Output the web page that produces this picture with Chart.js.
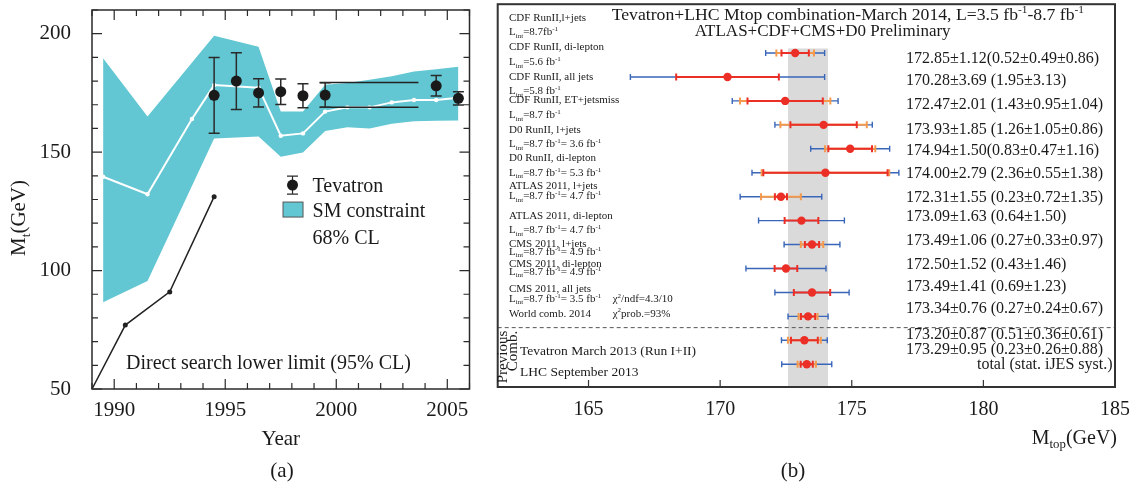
<!DOCTYPE html>
<html>
<head>
<meta charset="utf-8">
<script src="https://cdn.jsdelivr.net/npm/chart.js@4.4.1/dist/chart.umd.min.js"></script>
<style>
  body { margin: 0; background: #fff; }
  #wrap { position: relative; width: 1129px; height: 482px; font-family: "Liberation Serif", "DejaVu Serif", serif; color: #1a1a1a; }
  #chartA { position: absolute; left: 0; top: 0; }
  #chartB { position: absolute; left: 490px; top: 0; }
  .cap { position: absolute; font-size: 21px; transform: translate(-50%, -50%); }
</style>
</head>
<body>
<div id="wrap">
  <canvas id="chartA" width="490" height="482"></canvas>
  <canvas id="chartB" width="639" height="482"></canvas>
  <div class="cap" style="left:282px; top:470px">(a)</div>
  <div class="cap" style="left:793px; top:470px">(b)</div>
</div>
<script>
// ---- (a) top mass vs year ----
const bandYears = [1989.5, 1991.5, 1994.5, 1996.5, 1997.5, 1998.5, 1999.5, 2000.5, 2001.5, 2002.5, 2003.5, 2004.5, 2005.5]
const bandUpper = [189.6, 165.0, 199.1, 194.5, 167.1, 167.1, 178.4, 179.2, 180.6, 182.0, 184.0, 185.0, 186.0]
const bandLower = [86.6, 95.6, 155.8, 156.6, 148.1, 149.8, 158.9, 160.5, 160.0, 162.0, 163.0, 163.2, 163.3]
const fitYears = [1989.5, 1991.5, 1993.5, 1994.5, 1996.5, 1997.5, 1998.5, 1999.5, 2000.5, 2001.5, 2002.5, 2003.5, 2004.5, 2005.5]
const fitMass = [139.6, 132.2, 164.0, 178.3, 177.2, 156.9, 157.9, 167.1, 168.9, 168.9, 171.0, 172.0, 172.0, 173.0]
const limitYears = [1989, 1990.5, 1992.5, 1994.5]
const limitMass = [50, 77, 91, 131.2]
const tevYears = [1994.5, 1995.5, 1996.5, 1997.5, 1998.5, 1999.5, 2004.5, 2005.5]
const tevMass = [174.0, 180.0, 175.0, 175.5, 173.8, 174.1, 178.0, 172.7]
const tevErr = [16.0, 12.0, 6.0, 5.4, 5.1, 5.2, 4.3, 2.8]
const rangeYears = [1999.25, 2003.7]
const rangeMass = [179.4, 168.9]
const yearTicks = [1990, 1995, 2000, 2005]
const massTicks = [50, 100, 150, 200]

// ---- (b) Mtop combination ----
const expNames = ['CDF RunII,l+jets', 'CDF RunII, di-lepton', 'CDF RunII, all jets', 'CDF RunII, ET+jetsmiss',
  'D0 RunII, l+jets', 'D0 RunII, di-lepton', 'ATLAS 2011, l+jets', 'ATLAS 2011, di-lepton',
  'CMS 2011, l+jets', 'CMS 2011, di-lepton', 'CMS 2011, all jets', 'World comb. 2014']
const expLumi = ['L_{int}=8.7fb^{-1}', 'L_{int}=5.6 fb^{-1}', 'L_{int}=5.8 fb^{-1}', 'L_{int}=8.7 fb^{-1}',
  'L_{int}=8.7 fb^{-1}= 3.6 fb^{-1}', 'L_{int}=8.7 fb^{-1}= 5.3 fb^{-1}', 'L_{int}=8.7 fb^{-1}= 4.7 fb^{-1}',
  'L_{int}=8.7 fb^{-1}= 4.7 fb^{-1}', 'L_{int}=8.7 fb^{-1}= 4.9 fb^{-1}', 'L_{int}=8.7 fb^{-1}= 4.9 fb^{-1}',
  'L_{int}=8.7 fb^{-1}= 3.5 fb^{-1}']
const prevNames = ['Tevatron March 2013 (Run I+II)', 'LHC September 2013']
const mtop     = [172.85, 170.28, 172.47, 173.93, 174.94, 174.00, 172.31, 173.09, 173.49, 172.50, 173.49, 173.34, 173.20, 173.29]
const mtopTot  = [1.12, 3.69, 2.01, 1.85, 1.50, 2.79, 1.55, 1.63, 1.06, 1.52, 1.41, 0.76, 0.87, 0.95]
const mtopStat = [0.52, 1.95, 1.43, 1.26, 0.83, 2.36, 0.23, 0.64, 0.27, 0.43, 0.69, 0.27, 0.51, 0.23]
const mtopJes  = [0.49, null, 0.95, 1.05, 0.47, 0.55, 0.72, null, 0.33, null, null, 0.24, 0.36, 0.26]
const mtopSyst = [0.86, 3.13, 1.04, 0.86, 1.16, 1.38, 1.35, 1.50, 0.97, 1.46, 1.23, 0.67, 0.61, 0.88]
const mtopTicks = [165, 170, 175, 180, 185]
const worldIdx = 11

// label placement, in row units of the (b) axis
const nameRows  = [-1.51, -0.26, 0.99, 1.95, 3.17, 4.35, 5.53, 6.78, 7.93, 8.77, 9.83, 10.88]
const lumiRows  = [-0.89, 0.36, 1.57, 2.58, 3.79, 4.98, 5.95, 7.38, 8.28, 9.11, 10.25]
const valueRows = [0.18, 1.13, 2.13, 3.17, 4.04, 5.02, 6.0, 6.78, 7.79, 8.82, 9.70, 10.62, 11.72, 12.36]
const prevRows  = [12.43, 13.31]
const tightRows = [0, 4]

const SERIF = '"Liberation Serif", "DejaVu Serif", serif'
const INK = '#1a1a1a'
const CYAN = '#62c7d3'
const BLUE = '#3a66b9'
const ORANGE = '#f59a4c'
const RED = '#ec2f26'

const xy = (xs, ys) => xs.map((x, i) => ({x: x, y: ys[i]}))

// text with _{sub} and ^{sup} parts, y is the visual middle
function drawRich(ctx, str, x, y, size, align) {
  const parts = []
  const re = /([_^])\{([^}]*)\}/g
  let last = 0, m
  while ((m = re.exec(str))) {
    if (m.index > last) parts.push({t: str.slice(last, m.index), k: ''})
    parts.push({t: m[2], k: m[1]})
    last = re.lastIndex
  }
  if (last < str.length) parts.push({t: str.slice(last), k: ''})
  const small = size * 0.64
  let w = 0
  parts.forEach(p => {
    ctx.font = (p.k ? small : size) + 'px ' + SERIF
    p.w = ctx.measureText(p.t).width
    w += p.w
  })
  let cx = align === 'center' ? x - w / 2 : align === 'right' ? x - w : x
  const base = y + size * 0.33
  ctx.textAlign = 'left'
  ctx.textBaseline = 'alphabetic'
  parts.forEach(p => {
    ctx.font = (p.k ? small : size) + 'px ' + SERIF
    const dy = p.k === '_' ? size * 0.22 : p.k === '^' ? -size * 0.38 : 0
    ctx.fillText(p.t, cx, base + dy)
    cx += p.w
  })
}

function valueText(i) {
  const parts = [mtopStat[i], mtopJes[i], mtopSyst[i]].filter(v => v != null).map(v => v.toFixed(2))
  return mtop[i].toFixed(2) + '±' + mtopTot[i].toFixed(2) + (tightRows.includes(i) ? '' : ' ') + '(' + parts.join('±') + ')'
}

// SECTION PANEL A
const panelA = {
  id: 'panelA',
  beforeDatasetDraw(chart, args) {
    if (args.index !== 6) return
    const {ctx, scales: {x, y}} = chart
    ctx.save()
    ctx.strokeStyle = '#2a2a2a'
    ctx.lineWidth = 1.5
    ctx.beginPath()
    tevYears.forEach((yr, i) => {
      const px = x.getPixelForValue(yr)
      const top = y.getPixelForValue(tevMass[i] + tevErr[i])
      const bot = y.getPixelForValue(tevMass[i] - tevErr[i])
      ctx.moveTo(px, top); ctx.lineTo(px, bot)
      ctx.moveTo(px - 5.5, top); ctx.lineTo(px + 5.5, top)
      ctx.moveTo(px - 5.5, bot); ctx.lineTo(px + 5.5, bot)
    })
    ctx.stroke()
    ctx.restore()
  },
  afterDraw(chart) {
    const {ctx, chartArea: a, scales: {x, y}} = chart
    ctx.save()
    ctx.strokeStyle = '#2a2a2a'
    ctx.lineWidth = 1.5
    ctx.strokeRect(a.left, a.top, a.right - a.left, a.bottom - a.top)
    ctx.lineWidth = 1.2
    ctx.beginPath()
    for (let yr = Math.ceil(x.min); yr <= x.max; yr++) {
      const px = x.getPixelForValue(yr)
      const len = yr % 5 === 0 ? 10 : 6
      ctx.moveTo(px, a.bottom); ctx.lineTo(px, a.bottom - len)
      ctx.moveTo(px, a.top); ctx.lineTo(px, a.top + len)
    }
    for (let v = y.min; v <= y.max; v += 10) {
      const py = y.getPixelForValue(v)
      const len = v % 50 === 0 ? 10 : 6
      ctx.moveTo(a.left, py); ctx.lineTo(a.left + len, py)
      ctx.moveTo(a.right, py); ctx.lineTo(a.right - len, py)
    }
    ctx.stroke()

    // y title
    ctx.fillStyle = INK
    ctx.save()
    ctx.translate(18, 218)
    ctx.rotate(-Math.PI / 2)
    drawRich(ctx, 'M_{t}(GeV)', 0, 0, 21, 'center')
    ctx.restore()

    // legend
    const lx = x.getPixelForValue(1998.03)
    const ly = y.getPixelForValue(136.1)
    ctx.beginPath()
    ctx.moveTo(lx, ly - 9); ctx.lineTo(lx, ly + 9)
    ctx.moveTo(lx - 5.5, ly - 9); ctx.lineTo(lx + 5.5, ly - 9)
    ctx.moveTo(lx - 5.5, ly + 9); ctx.lineTo(lx + 5.5, ly + 9)
    ctx.stroke()
    ctx.beginPath()
    ctx.arc(lx, ly, 5.5, 0, Math.PI * 2)
    ctx.fill()
    ctx.fillStyle = CYAN
    ctx.fillRect(lx - 9.5, ly + 17, 20, 15)
    ctx.lineWidth = 1
    ctx.strokeStyle = '#555'
    ctx.strokeRect(lx - 9.5, ly + 17, 20, 15)
    ctx.fillStyle = INK
    drawRich(ctx, 'Tevatron', lx + 20, ly, 20, 'left')
    drawRich(ctx, 'SM constraint', lx + 20, ly + 25, 20, 'left')
    drawRich(ctx, '68% CL', lx + 20, ly + 52, 20, 'left')

    drawRich(ctx, 'Direct search lower limit (95% CL)', x.getPixelForValue(1990.53), y.getPixelForValue(61.2), 20, 'left')
    ctx.restore()
  }
}

const chartA = new Chart(document.getElementById('chartA'), {
  type: 'line',
  data: {
    datasets: [
      {label: 'SM constraint', data: xy(bandYears, bandUpper), fill: '+1', backgroundColor: CYAN,
        borderWidth: 0, pointRadius: 0, order: 6},
      {label: 'band low', data: xy(bandYears, bandLower), fill: false, borderWidth: 0, pointRadius: 0, order: 7},
      {label: 'fit', data: xy(fitYears, fitMass), borderColor: '#fff', borderWidth: 2,
        pointRadius: 2.2, pointBackgroundColor: '#fff', pointBorderWidth: 0, order: 5},
      {label: 'limit', data: xy(limitYears, limitMass), borderColor: '#222', borderWidth: 1.5,
        pointRadius: c => c.dataIndex === 0 ? 0 : 2.5, pointBackgroundColor: '#222', pointBorderWidth: 0, order: 4},
      {label: 'range hi', data: xy(rangeYears, [rangeMass[0], rangeMass[0]]), borderColor: '#222', borderWidth: 1.5, pointRadius: 0, order: 3},
      {label: 'range lo', data: xy(rangeYears, [rangeMass[1], rangeMass[1]]), borderColor: '#222', borderWidth: 1.5, pointRadius: 0, order: 3},
      {label: 'Tevatron', data: xy(tevYears, tevMass), showLine: false, pointRadius: 5.5,
        pointBackgroundColor: INK, pointBorderWidth: 0, order: 1}
    ]
  },
  options: {
    responsive: false,
    animation: false,
    events: [],
    layout: {padding: {left: 0, right: 20.5, top: 10, bottom: 0}},
    plugins: {legend: {display: false}, tooltip: {enabled: false}},
    scales: {
      x: {
        type: 'linear', min: 1989, max: 2006,
        grid: {display: false, drawTicks: false}, border: {display: false},
        afterBuildTicks: s => { s.ticks = yearTicks.map(v => ({value: v})) },
        afterFit: s => { s.height = 93; s.paddingLeft = 0; s.paddingRight = 0 },
        ticks: {autoSkip: false, maxRotation: 0, padding: 8.4, color: INK, font: {family: SERIF, size: 21},
          callback: v => String(v)},
        title: {display: true, text: 'Year', color: INK, font: {family: SERIF, size: 21}, padding: {top: 0, bottom: 30.4}}
      },
      y: {
        type: 'linear', min: 50, max: 210,
        grid: {display: false, drawTicks: false}, border: {display: false},
        afterBuildTicks: s => { s.ticks = massTicks.map(v => ({value: v})) },
        afterFit: s => { s.width = 92; s.paddingTop = 0; s.paddingBottom = 0 },
        ticks: {padding: 21, color: INK, font: {family: SERIF, size: 21}, callback: v => String(v)}
      }
    }
  },
  plugins: [panelA]
})

// SECTION PANEL B
const panelB = {
  id: 'panelB',
  beforeDatasetsDraw(chart) {
    const {ctx, chartArea: a, scales: {x, y}} = chart
    ctx.save()
    const x0 = x.getPixelForValue(mtop[worldIdx] - mtopTot[worldIdx])
    const x1 = x.getPixelForValue(mtop[worldIdx] + mtopTot[worldIdx])
    const top = y.getPixelForValue(-0.19)
    ctx.fillStyle = '#dadada'
    ctx.fillRect(x0, top, x1 - x0, a.bottom - top)
    ctx.strokeStyle = '#555'
    ctx.lineWidth = 1
    ctx.setLineDash([4, 3])
    ctx.beginPath()
    ctx.moveTo(a.left, y.getPixelForValue(11.47))
    ctx.lineTo(a.right, y.getPixelForValue(11.47))
    ctx.stroke()
    ctx.restore()
  },
  beforeDatasetDraw(chart) {
    const {ctx, scales: {x, y}} = chart
    ctx.save()
    mtop.forEach((m, i) => {
      const py = y.getPixelForValue(i)
      const bar = (half, color, lw, cap) => {
        const a0 = x.getPixelForValue(m - half), a1 = x.getPixelForValue(m + half)
        ctx.strokeStyle = color
        ctx.lineWidth = lw
        ctx.beginPath()
        ctx.moveTo(a0, py); ctx.lineTo(a1, py)
        ctx.moveTo(a0, py - cap); ctx.lineTo(a0, py + cap)
        ctx.moveTo(a1, py - cap); ctx.lineTo(a1, py + cap)
        ctx.stroke()
      }
      bar(mtopTot[i], BLUE, 1.4, 3)
      if (mtopJes[i] != null) bar(Math.hypot(mtopStat[i], mtopJes[i]), ORANGE, 2, 3.5)
      bar(mtopStat[i], RED, 2, 3.5)
    })
    ctx.restore()
  },
  afterDraw(chart) {
    const {ctx, chartArea: a, scales: {x, y}} = chart
    ctx.save()
    ctx.strokeStyle = '#333'
    ctx.lineWidth = 2
    ctx.strokeRect(a.left, a.top, a.right - a.left, a.bottom - a.top)
    ctx.lineWidth = 1.2
    ctx.beginPath()
    mtopTicks.forEach(v => {
      if (v >= x.max) return
      const px = x.getPixelForValue(v)
      ctx.moveTo(px, a.bottom); ctx.lineTo(px, a.bottom - 7)
    })
    ctx.stroke()

    ctx.fillStyle = INK
    drawRich(ctx, 'Tevatron+LHC Mtop combination-March 2014, L=3.5 fb^{-1}-8.7 fb^{-1}', a.left + 114, y.getPixelForValue(-1.63), 17.7, 'left')
    drawRich(ctx, 'ATLAS+CDF+CMS+D0 Preliminary', a.left + 197, y.getPixelForValue(-0.93), 17, 'left')

    expNames.forEach((t, i) => drawRich(ctx, t, a.left + 11.3, y.getPixelForValue(nameRows[i]), 11, 'left'))
    expLumi.forEach((t, i) => drawRich(ctx, t, a.left + 11.3, y.getPixelForValue(lumiRows[i]), 11, 'left'))
    drawRich(ctx, 'χ^{2}/ndf=4.3/10', a.left + 115, y.getPixelForValue(10.24), 11, 'left')
    drawRich(ctx, 'χ^{2}prob.=93%', a.left + 115, y.getPixelForValue(10.86), 11, 'left')
    prevNames.forEach((t, i) => drawRich(ctx, t, a.left + 22.3, y.getPixelForValue(prevRows[i]), 13.5, 'left'))

    mtop.forEach((m, i) => drawRich(ctx, valueText(i), a.left + 408.3, y.getPixelForValue(valueRows[i]), 16, 'left'))
    drawRich(ctx, 'total (stat. iJES syst.)', a.right - 2.5, y.getPixelForValue(12.98), 16, 'right')

    // rotated "Previous Comb."
    ctx.font = '15px ' + SERIF
    ctx.textAlign = 'right'
    ctx.textBaseline = 'alphabetic'
    ctx.save()
    ctx.translate(a.left + 9.5, y.getPixelForValue(11.6))
    ctx.rotate(-Math.PI / 2)
    ctx.fillText('Previous', 0, 0)
    ctx.restore()
    ctx.save()
    ctx.translate(a.left + 19.5, y.getPixelForValue(11.6))
    ctx.rotate(-Math.PI / 2)
    ctx.fillText('Comb.', 0, 0)
    ctx.restore()

    drawRich(ctx, 'M_{top}(GeV)', a.right + 2, 437, 20, 'right')
    ctx.restore()
  }
}

const chartB = new Chart(document.getElementById('chartB'), {
  type: 'scatter',
  data: {
    datasets: [{
      label: 'Mtop', data: mtop.map((m, i) => ({x: m, y: i})),
      pointRadius: 4.2, pointBackgroundColor: RED, pointBorderWidth: 0
    }]
  },
  options: {
    responsive: false,
    animation: false,
    events: [],
    layout: {padding: {left: 7.7, right: 14, top: 3.3, bottom: 0}},
    plugins: {legend: {display: false}, tooltip: {enabled: false}},
    scales: {
      x: {
        type: 'linear', min: 161.55, max: 185,
        grid: {display: false, drawTicks: false}, border: {display: false},
        afterBuildTicks: s => { s.ticks = mtopTicks.map(v => ({value: v})) },
        afterFit: s => { s.height = 95; s.paddingLeft = 0; s.paddingRight = 0 },
        ticks: {autoSkip: false, maxRotation: 0, padding: 11, color: INK, font: {family: SERIF, size: 20}}
      },
      y: {type: 'linear', display: false, min: -2.04, max: 13.95, reverse: true}
    }
  },
  plugins: [panelB]
})
</script>
</body>
</html>
